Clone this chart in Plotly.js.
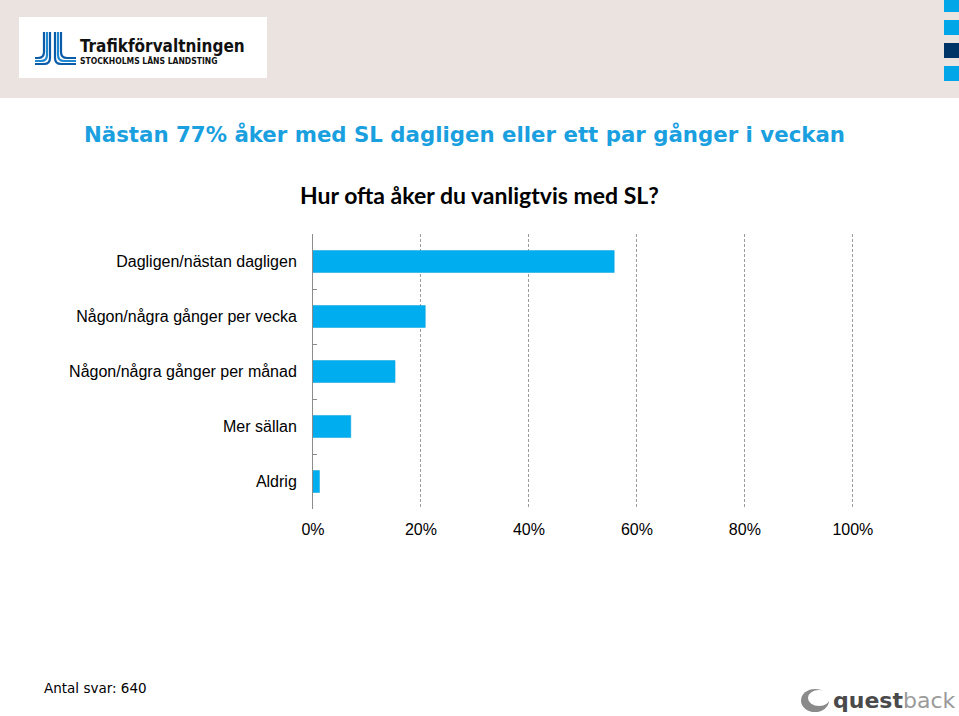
<!DOCTYPE html>
<html>
<head>
<meta charset="utf-8">
<script src="https://cdn.plot.ly/plotly-3.0.1.min.js"></script>
<style>html,body{margin:0;padding:0;background:#fff;}#chart{width:959px;height:716px;}</style>
</head>
<body>
<div id="chart"></div>
<script>
const categories = ["Dagligen/nästan dagligen","Någon/några gånger per vecka","Någon/några gånger per månad","Mer sällan","Aldrig"];
const values = [55.8, 20.8, 15.2, 7.0, 1.2];
const tickVals = [0, 20, 40, 60, 80, 100];
const tickText = ["0%", "20%", "40%", "60%", "80%", "100%"];
const titleText = "Nästan 77% åker med SL dagligen eller ett par gånger i veckan";
const subtitleText = "Hur ofta åker du vanligtvis med SL?";
const footerText = "Antal svar: 640";

// pixel helpers for decorations
const L = 313, R = 855, T = 234, B = 509;
const px = x => (x - L) / (R - L);
const py = y => (B - y) / (B - T);

const shapes = [];
shapes.push({type:'rect', xref:'paper', yref:'paper', x0:px(0), x1:px(959), y0:py(0), y1:py(98), fillcolor:'#EAE3DF', line:{width:0}, layer:'below'});
shapes.push({type:'rect', xref:'paper', yref:'paper', x0:px(19), x1:px(267), y0:py(17), y1:py(78), fillcolor:'#FFFFFF', line:{width:0}, layer:'below'});
[[0,12,'#00A6E8'],[20,35,'#00A6E8'],[43,58,'#003366'],[66,81,'#00A6E8']].forEach(s=>{
  shapes.push({type:'rect', xref:'paper', yref:'paper', x0:px(944), x1:px(959), y0:py(s[0]), y1:py(s[1]), fillcolor:s[2], line:{width:0}});
});
const stripeCols = ['#0B5CA8','#1E88D0','#0B5CA8'];
for (let i = 0; i < 3; i++) {
  const xJ = 44 + i*3, yB = 58 + i*3;
  const pJ = `M ${px(xJ)} ${py(32)} L ${px(xJ)} ${py(yB-6)} Q ${px(xJ)} ${py(yB)} ${px(xJ-6)} ${py(yB)} L ${px(35)} ${py(yB)}`;
  shapes.push({type:'path', xref:'paper', yref:'paper', path:pJ, line:{color:stripeCols[i], width:2.2}});
  const xLs = 55 + (2-i)*3, yB2 = 58 + i*3;
  const pL = `M ${px(xLs)} ${py(32)} L ${px(xLs)} ${py(yB2-6)} Q ${px(xLs)} ${py(yB2)} ${px(xLs+6)} ${py(yB2)} L ${px(76)} ${py(yB2)}`;
  shapes.push({type:'path', xref:'paper', yref:'paper', path:pL, line:{color:stripeCols[2-i], width:2.2}});
}
shapes.push({type:'circle', xref:'paper', yref:'paper', x0:px(801), x1:px(829), y0:py(689), y1:py(712), fillcolor:'#8A8A8A', line:{width:0}});
shapes.push({type:'circle', xref:'paper', yref:'paper', x0:px(808), x1:px(830), y0:py(690), y1:py(706), fillcolor:'#FFFFFF', line:{width:0}});

const annotations = [
  {text:'<b>'+titleText+'</b>', xref:'paper', yref:'paper', x:px(464), y:py(135), xanchor:'center', yanchor:'middle', showarrow:false, font:{family:'DejaVu Sans', size:21.3, color:'#1AA0DF'}},
  {text:'<b>'+subtitleText+'</b>', xref:'paper', yref:'paper', x:px(479), y:py(195), xanchor:'center', yanchor:'middle', showarrow:false, font:{family:'Lato', size:23, color:'#000000'}},
  {text:footerText, xref:'paper', yref:'paper', x:px(42), y:py(688), xanchor:'left', yanchor:'middle', showarrow:false, font:{family:'DejaVu Sans', size:13.5, color:'#000000'}},
  {text:'<b>Trafikförvaltningen</b>', xref:'paper', yref:'paper', x:px(78), y:py(46), xanchor:'left', yanchor:'middle', showarrow:false, font:{family:'DejaVu Sans Condensed', size:17, color:'#111111'}},
  {text:'<b>STOCKHOLMS LÄNS LANDSTING</b>', xref:'paper', yref:'paper', x:px(78), y:py(61), xanchor:'left', yanchor:'middle', showarrow:false, font:{family:'DejaVu Sans Condensed', size:8.5, color:'#111111'}},
  {text:'<b><span style="color:#4A4A4A">quest</span></b><span style="color:#9A9A9A">back</span>', xref:'paper', yref:'paper', x:px(831), y:py(700), xanchor:'left', yanchor:'middle', showarrow:false, font:{family:'DejaVu Sans', size:22, color:'#4A4A4A'}}
];

const data = [{
  type:'bar', orientation:'h',
  y: categories, x: values,
  marker:{color:'#00AEEF', line:{color:'#0AA3DD', width:0.5}},
  width:0.4,
  hoverinfo:'none'
}];

const layout = {
  width:959, height:716,
  margin:{l:L, r:959-R, t:T, b:716-B, pad:0},
  paper_bgcolor:'#FFFFFF', plot_bgcolor:'#FFFFFF',
  showlegend:false,
  xaxis:{range:[0,100.4], tickvals:tickVals, ticktext:tickText, showgrid:true, gridcolor:'#9C9C9C', griddash:'3px,2px', gridwidth:1,
         zeroline:false, showline:false, ticks:'', tickfont:{family:'Liberation Sans', size:16, color:'#000'}, ticklabelstandoff:9, fixedrange:true},
  yaxis:{type:'category', autorange:false, range:[4.5,-0.5], showline:true, linecolor:'#8C8C8C', linewidth:1, ticks:'inside', tickson:'boundaries', ticklen:4, tickcolor:'#8C8C8C',
         showgrid:false, zeroline:false, tickfont:{family:'Liberation Sans', size:16, color:'#000'}, ticklabelstandoff:12, automargin:false, fixedrange:true},
  shapes:shapes,
  annotations:annotations
};
Plotly.newPlot('chart', data, layout, {displayModeBar:false, staticPlot:true});
</script>
</body>
</html>
